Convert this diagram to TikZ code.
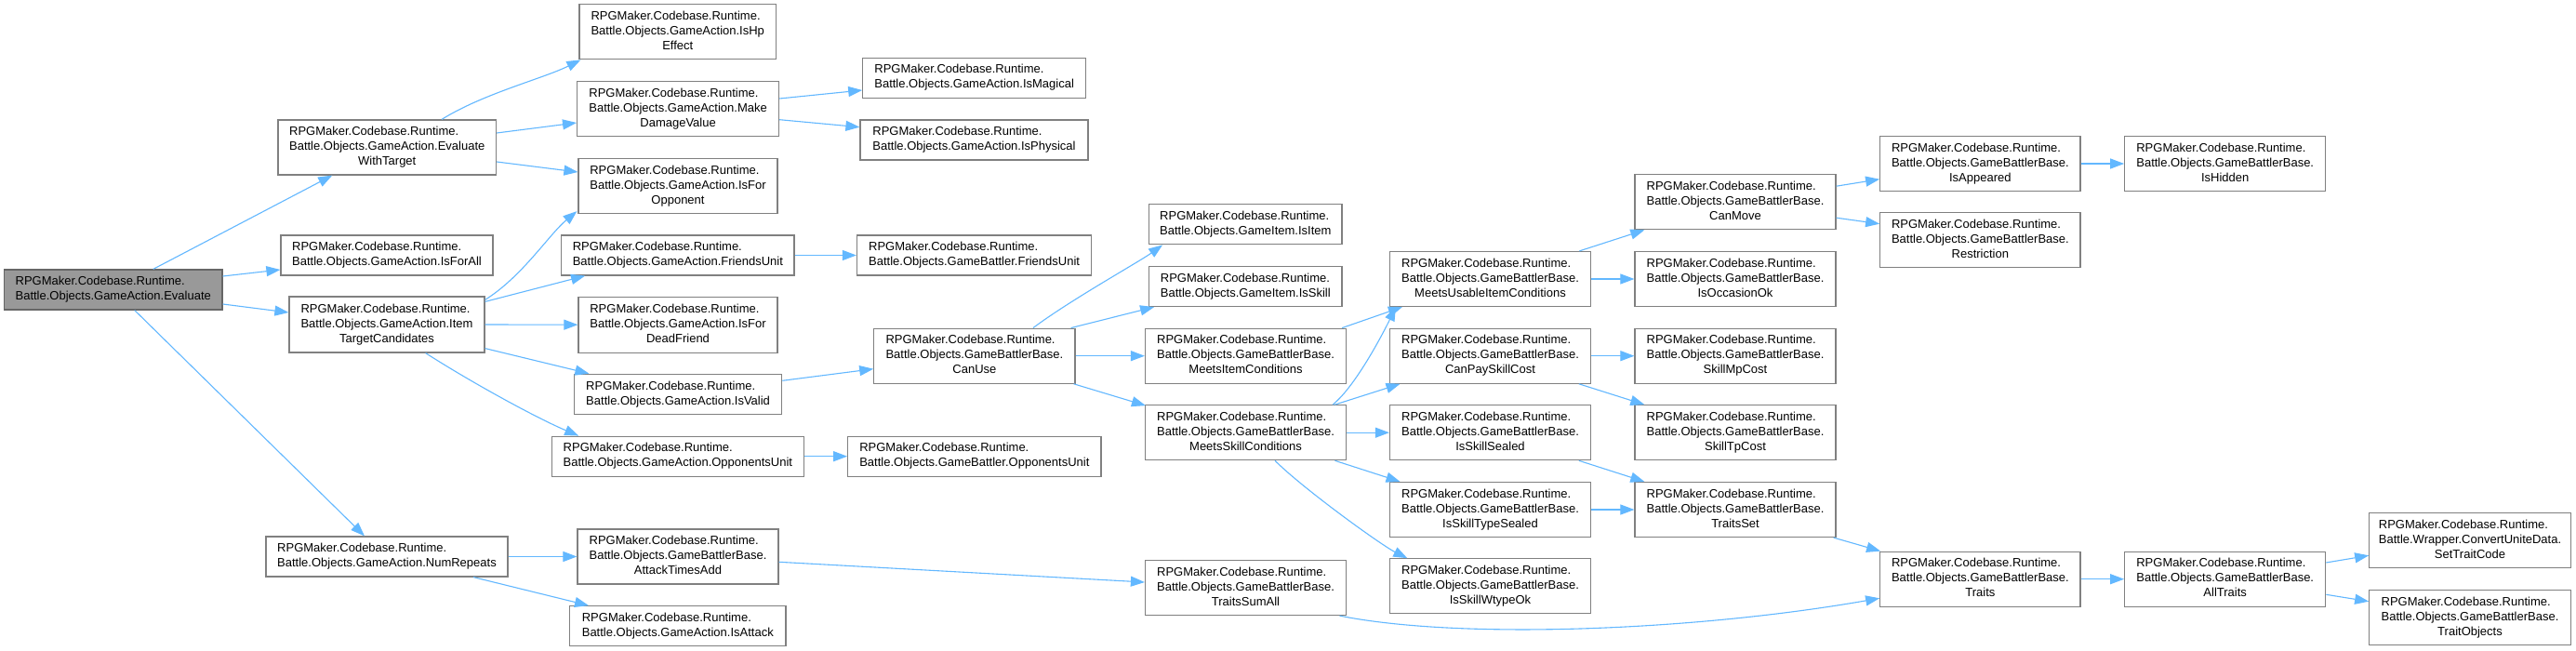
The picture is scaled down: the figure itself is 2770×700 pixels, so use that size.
\documentclass[tikz,border=0pt]{standalone}
\usepackage{fontspec}
\setmainfont{Liberation Sans}
\usetikzlibrary{arrows.meta}
\definecolor{edgeblue}{HTML}{63B8FF}
\definecolor{boxgray}{HTML}{808080}
\definecolor{rootfill}{HTML}{999999}
\definecolor{rootdraw}{HTML}{666666}
\newcommand{\twol}[2]{\begin{tabular}{@{}l@{}}#1\\#2\end{tabular}}
\newcommand{\threel}[3]{\begin{tabular}{@{}l@{}}#1\\#2\\\multicolumn{1}{@{}c@{}}{#3}\end{tabular}}
\newcommand{\rpg}{RPGMaker.Codebase.Runtime.}
\newcommand{\gbb}{Battle.Objects.GameBattlerBase.}
\tikzset{
  box/.style={draw=boxgray, fill=white, line width=1.2pt, inner sep=0pt,
    font=\fontsize{13}{16}\selectfont},
  hthree/.style={box, minimum height=59pt},
  htwo/.style={box, minimum height=43pt},
  rootbox/.style={htwo, fill=rootfill, draw=rootdraw},
  edge/.style={draw=edgeblue, line width=1.1pt, -{Triangle[length=15pt,width=11pt]}}
}
\begin{document}
\begin{tikzpicture}[x=1pt,y=-1pt]
\useasboundingbox[fill=white] (0,0) rectangle (2770,700);
% column 0
\node[rootbox, minimum width=234.5pt] (eval) at (121.75,311.5) {\twol{\rpg}{Battle.Objects.GameAction.Evaluate}};
% column 1
\node[hthree, minimum width=234.5pt] (ewt) at (416.25,158.5) {\threel{\rpg}{Battle.Objects.GameAction.Evaluate}{WithTarget}};
\node[htwo, minimum width=228pt] (isforall) at (416,274.5) {\twol{\rpg}{Battle.Objects.GameAction.IsForAll}};
\node[hthree, minimum width=210pt, minimum height=60pt] (itc) at (416,349) {\threel{\rpg}{Battle.Objects.GameAction.Item}{TargetCandidates}};
\node[htwo, minimum width=260pt] (numrep) at (416,598.5) {\twol{\rpg}{Battle.Objects.GameAction.NumRepeats}};
% column 2
\node[hthree, minimum width=211.5pt] (ishp) at (728.75,34.3) {\threel{\rpg}{Battle.Objects.GameAction.IsHp}{Effect}};
\node[hthree, minimum width=217pt] (mdv) at (729.1,117.2) {\threel{\rpg}{Battle.Objects.GameAction.Make}{DamageValue}};
\node[hthree, minimum width=214pt] (isforopp) at (729,200) {\threel{\rpg}{Battle.Objects.GameAction.IsFor}{Opponent}};
\node[htwo, minimum width=250.3pt] (gafriends) at (728.85,274.5) {\twol{\rpg}{Battle.Objects.GameAction.FriendsUnit}};
\node[hthree, minimum width=214pt, minimum height=60pt] (isfordead) at (729,349.2) {\threel{\rpg}{Battle.Objects.GameAction.IsFor}{DeadFriend}};
\node[htwo, minimum width=223.2pt] (isvalid) at (729.1,423.8) {\twol{\rpg}{Battle.Objects.GameAction.IsValid}};
\node[htwo, minimum width=271pt] (gaopp) at (728.9,490.7) {\twol{\rpg}{Battle.Objects.GameAction.OpponentsUnit}};
\node[hthree, minimum width=216pt] (atkadd) at (729,598.5) {\threel{\rpg}{\gbb}{AttackTimesAdd}};
\node[htwo, minimum width=232.4pt] (isattack) at (728.8,673.2) {\twol{\rpg}{Battle.Objects.GameAction.IsAttack}};
% column 3
\node[htwo, minimum width=239.7pt] (ismagical) at (1047.65,83.8) {\twol{\rpg}{Battle.Objects.GameAction.IsMagical}};
\node[htwo, minimum width=245pt] (isphysical) at (1047.5,150.5) {\twol{\rpg}{Battle.Objects.GameAction.IsPhysical}};
\node[htwo, minimum width=252.25pt] (gbfriends) at (1047.6,274.5) {\twol{\rpg}{Battle.Objects.GameBattler.FriendsUnit}};
\node[hthree, minimum width=216.2pt] (canuse) at (1047.9,382.7) {\threel{\rpg}{\gbb}{CanUse}};
\node[htwo, minimum width=272.3pt] (gbopp) at (1047.85,490.7) {\twol{\rpg}{Battle.Objects.GameBattler.OpponentsUnit}};
% column 4
\node[htwo, minimum width=207.2pt] (isitem) at (1339.3,241.3) {\twol{\rpg}{Battle.Objects.GameItem.IsItem}};
\node[htwo, minimum width=207.2pt] (isskill) at (1339.3,308) {\twol{\rpg}{Battle.Objects.GameItem.IsSkill}};
\node[hthree, minimum width=216pt] (meetsitem) at (1339.5,382.7) {\threel{\rpg}{\gbb}{MeetsItemConditions}};
\node[hthree, minimum width=216pt] (meetsskill) at (1339.5,465.2) {\threel{\rpg}{\gbb}{MeetsSkillConditions}};
\node[hthree, minimum width=216pt] (traitssumall) at (1339.5,632) {\threel{\rpg}{\gbb}{TraitsSumAll}};
% column 5
\node[hthree, minimum width=216pt] (meetsusable) at (1602.5,300) {\threel{\rpg}{\gbb}{MeetsUsableItemConditions}};
\node[hthree, minimum width=216pt] (canpay) at (1602.5,382.7) {\threel{\rpg}{\gbb}{CanPaySkillCost}};
\node[hthree, minimum width=216pt] (issealed) at (1602.5,465.2) {\threel{\rpg}{\gbb}{IsSkillSealed}};
\node[hthree, minimum width=216pt] (istypesealed) at (1602.5,548) {\threel{\rpg}{\gbb}{IsSkillTypeSealed}};
\node[hthree, minimum width=216pt] (iswtypeok) at (1602.5,630.3) {\threel{\rpg}{\gbb}{IsSkillWtypeOk}};
% column 6
\node[hthree, minimum width=216pt] (canmove) at (1866,217.2) {\threel{\rpg}{\gbb}{CanMove}};
\node[hthree, minimum width=216pt] (isoccasion) at (1866,300) {\threel{\rpg}{\gbb}{IsOccasionOk}};
\node[hthree, minimum width=216pt] (skillmp) at (1866,382.7) {\threel{\rpg}{\gbb}{SkillMpCost}};
\node[hthree, minimum width=216pt] (skilltp) at (1866,465.2) {\threel{\rpg}{\gbb}{SkillTpCost}};
\node[hthree, minimum width=216pt] (traitsset) at (1866,548) {\threel{\rpg}{\gbb}{TraitsSet}};
% column 7
\node[hthree, minimum width=215.3pt] (isappeared) at (2129.35,176) {\threel{\rpg}{\gbb}{IsAppeared}};
\node[hthree, minimum width=215.3pt] (restriction) at (2129.35,258.3) {\threel{\rpg}{\gbb}{Restriction}};
\node[hthree, minimum width=215.3pt] (traits) at (2129.35,622.7) {\threel{\rpg}{\gbb}{Traits}};
% column 8
\node[hthree, minimum width=216pt] (ishidden) at (2392.7,176) {\threel{\rpg}{\gbb}{IsHidden}};
\node[hthree, minimum width=216pt] (alltraits) at (2392.7,622.7) {\threel{\rpg}{\gbb}{AllTraits}};
% column 9
\node[hthree, minimum width=216.5pt] (settraitcode) at (2656,581.2) {\threel{\rpg}{Battle.Wrapper.ConvertUniteData.}{SetTraitCode}};
\node[hthree, minimum width=216.5pt] (traitobjects) at (2656,663.8) {\threel{\rpg}{\gbb}{TraitObjects}};
% edges
\draw[edge] ([xshift=43]eval.north) -- ([xshift=-59]ewt.south);
\draw[edge] ([yshift=14.5]eval.east) -- ([yshift=-15.5]isforall.west);
\draw[edge] ([yshift=-15.5]eval.east) -- ([yshift=13]itc.west);
\draw[edge] ([xshift=23]eval.south) -- ([xshift=-24]numrep.north);
\draw[edge] ([xshift=58.75]ewt.north) .. controls +(45,-28) and +(-40,20) .. ([xshift=2]ishp.south west);
\draw[edge] ([yshift=15.5]ewt.east) -- ([yshift=-14.8]mdv.west);
\draw[edge] ([yshift=-15.5]ewt.east) -- ([yshift=15]isforopp.west);
\draw[edge] ([yshift=-4]itc.north east) .. controls +(40,-25) and +(-30,25) .. ([xshift=-1,yshift=3]isforopp.south west);
\draw[edge] ([yshift=-6]itc.north east) -- ([xshift=26]gafriends.south west);
\draw[edge] (itc.east) -- (isfordead.west);
\draw[edge] ([yshift=5]itc.south east) -- ([xshift=16.5]isvalid.north west);
\draw[edge] ([xshift=41.6]itc.south) .. controls +(50,32) and +(-45,-19) .. ([xshift=29.4]gaopp.north west);
\draw[edge] (numrep.east) -- (atkadd.west);
\draw[edge] ([xshift=93]numrep.south) -- ([xshift=21]isattack.north west);
\draw[edge] ([yshift=11.2]mdv.east) -- ([yshift=-13.2]ismagical.west);
\draw[edge] ([yshift=-11.5]mdv.east) -- ([yshift=13.8]isphysical.west);
\draw[edge] (gafriends.east) -- (gbfriends.west);
\draw[edge] ([yshift=14.5]isvalid.east) -- ([yshift=-14]canuse.west);
\draw[edge] (gaopp.east) -- (gbopp.west);
\draw[edge] ([yshift=-5.8]atkadd.east) -- ([yshift=6]traitssumall.west);
\draw[edge] ([xshift=63]canuse.north) .. controls +(40,-30) and +(-25,18) .. ([xshift=15]isitem.south west);
\draw[edge] ([xshift=-5]canuse.north east) -- ([xshift=6]isskill.south west);
\draw[edge] (canuse.east) -- (meetsitem.west);
\draw[edge] ([xshift=-2]canuse.south east) -- ([xshift=1,yshift=-1]meetsskill.north west);
\draw[edge] ([xshift=-5]meetsitem.north east) -- ([xshift=14]meetsusable.south west);
\draw[edge] ([xshift=-15]meetsskill.north east) .. controls +(25,-20) and +(-12,25) .. ([xshift=7]meetsusable.south west);
\draw[edge] ([xshift=-12.7]meetsskill.north east) -- ([xshift=11.6]canpay.south west);
\draw[edge] (meetsskill.east) -- (issealed.west);
\draw[edge] ([xshift=-12.7]meetsskill.south east) -- ([xshift=11.6]istypesealed.north west);
\draw[edge] ([xshift=31.5]meetsskill.south) .. controls +(30,30) and +(-28,-14) .. ([xshift=19.4]iswtypeok.north west);
\draw[edge] ([xshift=-12.8]meetsusable.north east) -- ([xshift=10.9]canmove.south west);
\draw[edge] (meetsusable.east) -- (isoccasion.west);
\draw[edge] (canpay.east) -- (skillmp.west);
\draw[edge] ([xshift=-13.3]canpay.south east) -- ([xshift=10.9]skilltp.north west);
\draw[edge] ([xshift=-13.3]issealed.south east) -- ([xshift=10.9]traitsset.north west);
\draw[edge] (istypesealed.east) -- (traitsset.west);
\draw[edge] ([yshift=17]canmove.east) -- ([yshift=-16.7]isappeared.west);
\draw[edge] ([yshift=-17]canmove.east) -- ([yshift=17.6]restriction.west);
\draw[edge] (isappeared.east) -- (ishidden.west);
\draw[edge] ([xshift=-3]traitsset.south east) -- ([xshift=1]traits.north west);
\draw[edge] ([xshift=-7.6]traitssumall.south east) .. controls +(130,26) and +(-200,35) .. ([yshift=-20.6]traits.west);
\draw[edge] (traits.east) -- (alltraits.west);
\draw[edge] ([yshift=17.7]alltraits.east) -- ([yshift=-16.1]settraitcode.west);
\draw[edge] ([yshift=-16.6]alltraits.east) -- ([yshift=17.1]traitobjects.west);
\end{tikzpicture}
\end{document}
